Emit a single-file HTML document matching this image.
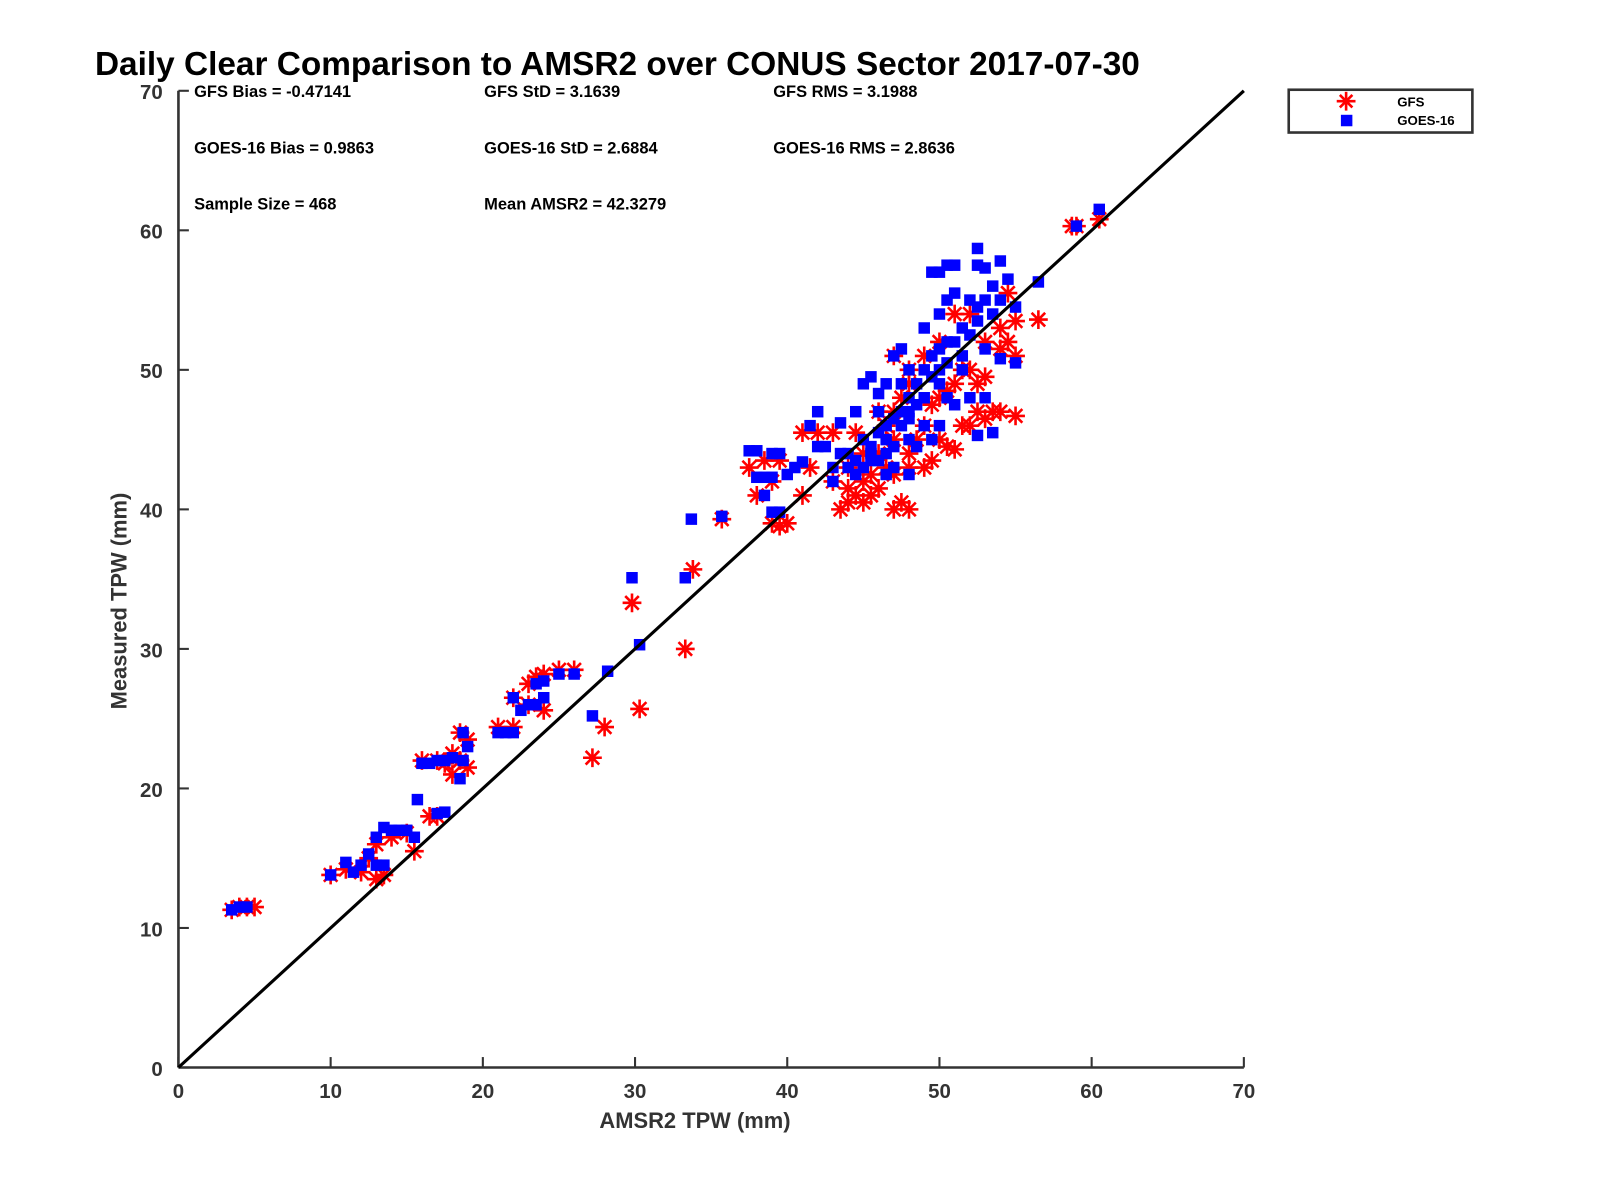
<!DOCTYPE html>
<html><head><meta charset="utf-8"><style>
body{margin:0;background:#fff;}
svg{display:block;font-family:"Liberation Sans",sans-serif;}
</style></head><body>
<svg id="chart" width="1600" height="1200" viewBox="0 0 1600 1200">
<g transform="scale(1.0435)">
<text x="91" y="72" font-size="32" font-weight="bold" fill="#000">Daily Clear Comparison to AMSR2 over CONUS Sector 2017-07-30</text>
<g font-size="15.8" font-weight="bold" fill="#000">
<text x="186" y="93">GFS Bias = -0.47141</text>
<text x="464" y="93">GFS StD = 3.1639</text>
<text x="741" y="93">GFS RMS = 3.1988</text>
<text x="186" y="147">GOES-16 Bias = 0.9863</text>
<text x="464" y="147">GOES-16 StD = 2.6884</text>
<text x="741" y="147">GOES-16 RMS = 2.8636</text>
<text x="186" y="201">Sample Size = 468</text>
<text x="464" y="201">Mean AMSR2 = 42.3279</text>
</g>
<g id="axes"></g>
<g id="marks"></g>
<line id="one-to-one" stroke="#000" stroke-width="3"/>
<text x="666" y="1081" font-size="21" font-weight="bold" fill="#333" text-anchor="middle">AMSR2 TPW (mm)</text>
<text transform="translate(121,576) rotate(-90)" font-size="21" font-weight="bold" fill="#333" text-anchor="middle">Measured TPW (mm)</text>
<g>
<rect x="1235" y="86" width="176" height="41" fill="#fff" stroke="#333" stroke-width="2.5"/>
<g stroke="red" stroke-width="2.5">
<line x1="1281" y1="97" x2="1299" y2="97"/><line x1="1290" y1="88" x2="1290" y2="106"/>
<line x1="1284" y1="91" x2="1296" y2="103"/><line x1="1296" y1="91" x2="1284" y2="103"/></g>
<rect x="1285" y="110" width="11" height="11" fill="#0000ff"/>
<text x="1339" y="102" font-size="12.7" font-weight="bold">GFS</text>
<text x="1339" y="120" font-size="12.7" font-weight="bold">GOES-16</text>
</g>
</g>
</svg>
<script>
const xTicks=[0,10,20,30,40,50,60,70];
const yTicks=[0,10,20,30,40,50,60,70];
const gfsX=[3.5,4,4.5,5,10,11,12,13,13.5,12.5,13,14,15,15.5,16,17,17.5,18,18.5,19,18.5,16.5,17,18,19,21,22,22,23,23.5,24,24,25,26,23,27.2,28,29.8,30.3,33.3,33.8,35.7,37.5,38,38.5,39,39.5,39,39.5,40,41,41.5,42,41,43,43.5,44,44.5,45,45.5,46,47,48,47.5,44,45,46,47,48,49,49.5,46.5,47,47.5,48,48.5,49,50,50.5,51,51.5,52,52.5,53,53.5,54,55,50,51,52,52.5,53,53,54,54.5,55,56.5,54.5,54,55,52,51,50,49,48,47,46,45,44.5,58.7,59,60.5,45.5,46.5,48,49.5,50.5,51.5,47,44,43];
const gfsY=[11.3,11.5,11.5,11.5,13.8,14.2,14,13.5,13.8,15,16,16.5,16.8,15.5,22,22,21.8,22.5,22,23.5,24,18,18,21,21.5,24.4,24.4,26.5,26,28,28.2,25.6,28.5,28.5,27.5,22.2,24.4,33.3,25.7,30,35.7,39.3,43,41,43.5,42,43.5,39,38.8,39,41,43,45.5,45.5,45.5,40,40.5,41,40.5,41,41.5,40,40,40.5,43,42,44,42.5,43,43,43.5,46,47,48,49,45,46,45,44.5,44.3,46,46,47,46.5,47,47,46.7,48,49,50,49,49.5,52,53,52,53.5,53.6,55.5,51.5,51,54,54,52,51,50,51,47,44,45.5,60.3,60.3,60.8,42.5,43,44,47.5,48.5,50,45,41.5,42];
const goesX=[3.5,4,4.5,10,11,11.5,12,12.5,13,13.5,13,13.5,14,14.5,15,15.5,15.7,16,16.5,17,17.5,18,18.5,18.7,19,18.7,17,17.5,21,21.5,22,22.5,23,23.5,23.5,24,24,25,26,22,27.2,28.2,29.8,30.3,33.3,33.7,35.7,37.5,38,38,38.5,39,39,39.5,40,40.5,41,39,39.5,38.5,42,41.5,42,42.5,43,43.5,43.5,44,44.5,45,45.5,46,46,46.5,47,47.5,44.5,45,45.5,46,47,47.5,48,48.5,48,49,49,49.5,50,50.5,51,49,50,50.5,51,52,52.5,53,53.5,54,49.5,50,50.5,51,52.5,52.5,53,54,54.5,56.5,55,54,55,53,52,51.5,50.5,51,50,49.5,48.5,48,47,46.5,47,48,52,53,52.5,53.5,50,48,46,45,44,43,59,60.5,51.5,50,49,48,47.5,46.5,45.5,46.5,47.5,48.5,49.5,50.5,51.5,52.5,53.5,44.5,45.5,46.5];
const goesY=[11.3,11.5,11.5,13.8,14.7,14,14.5,15.3,14.5,14.5,16.5,17.2,17,17,17,16.5,19.2,21.8,21.8,22,22,22.2,20.7,24,23,22,18.2,18.3,24,24,24,25.6,26,26,27.5,27.7,26.5,28.2,28.2,26.5,25.2,28.4,35.1,30.3,35.1,39.3,39.5,44.2,44.2,42.3,42.3,42.3,44,44,42.5,43,43.4,39.8,39.8,41,47,46,44.5,44.5,43,46.2,44,43,42.5,43,44,43.5,45.5,46,46.5,47,47,49,49.5,48.3,51,51.5,50,49,47,48,50,51,51.5,52,52,53,54,55,55.5,55,54.5,55,56,55,57,57,57.5,57.5,58.7,57.5,57.3,57.8,56.5,56.3,54.5,50.8,50.5,51.5,52.5,50,48,47.5,46,45,44.5,45,44.5,42.5,43,42.5,48,48,45.3,45.5,49,48,47,45,44,42,60.3,61.5,53,50,46,46.5,49,49,44.5,45,46,47.5,49.5,50.5,51,53.5,54,43.5,43.5,44];
const NS='http://www.w3.org/2000/svg';
const X0=171,X1=1192,Y0=1023,Y1=87;
const xs=v=>X0+(v/70)*(X1-X0);
const ys=v=>Y0-(v/70)*(Y0-Y1);
function mk(tag,attrs,parent){const e=document.createElementNS(NS,tag);for(const k in attrs)e.setAttribute(k,attrs[k]);parent.appendChild(e);return e;}
const axes=document.getElementById('axes');
let a=mk('line',{x1:X0,y1:Y0,x2:X1,y2:Y0,stroke:'#333','stroke-width':2.5},axes);


a=mk('line',{x1:X0,y1:Y0,x2:X0,y2:Y1,stroke:'#333','stroke-width':2.5},axes);


xTicks.forEach(t=>{
 mk('line',{x1:xs(t),y1:Y0,x2:xs(t),y2:Y0-10,stroke:'#333','stroke-width':2},axes);
 const tx=mk('text',{x:xs(t),y:Y0+29,'font-size':19.6,'font-weight':'bold',fill:'#333','text-anchor':'middle'},axes);
 tx.textContent=t;
 
 
});
yTicks.forEach(t=>{
 mk('line',{x1:X0,y1:ys(t),x2:X0+10,y2:ys(t),stroke:'#333','stroke-width':2},axes);
 const tx=mk('text',{x:X0-15,y:ys(t)+8,'font-size':19.6,'font-weight':'bold',fill:'#333','text-anchor':'end'},axes);
 tx.textContent=t;
 
 
});
const marks=document.getElementById('marks');
const gg=mk('g',{stroke:'red','stroke-width':2.5},marks);


const r=9,d=6.5;
gfsX.forEach((v,i)=>{
 const cx=xs(v),cy=ys(gfsY[i]);
 const s=mk('path',{d:`M${cx-r} ${cy}H${cx+r}M${cx} ${cy-r}V${cy+r}M${cx-d} ${cy-d}L${cx+d} ${cy+d}M${cx+d} ${cy-d}L${cx-d} ${cy+d}`},gg);
 
 
});
const bg=mk('g',{fill:'#0000ff'},marks);


goesX.forEach((v,i)=>{
 const s=mk('rect',{x:xs(v)-5.5,y:ys(goesY[i])-5.5,width:11,height:11},bg);
 
 
});
const l=document.getElementById('one-to-one');
l.setAttribute('x1',xs(0));l.setAttribute('y1',ys(0));l.setAttribute('x2',xs(70));l.setAttribute('y2',ys(70));
</script>
</body></html>
